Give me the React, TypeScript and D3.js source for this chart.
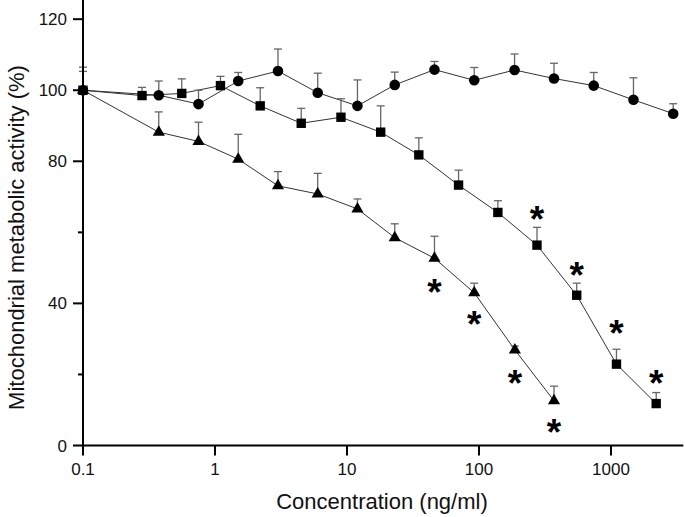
import React from "react";
import * as d3 from "d3";

// ---- data ----
const circleConc = [0.1, 0.375, 0.75, 1.5, 3, 6, 12, 23, 46, 92, 186, 370, 740, 1480, 2960];
const circleVal = [100, 98.6, 96.1, 102.6, 105.4, 99.3, 95.6, 101.5, 105.8, 102.8, 105.7, 103.3, 101.3, 97.3, 93.4];
const circleErr = [6.5, 4.0, 3.9, 2.4, 6.2, 5.5, 7.3, 3.6, 2.3, 3.6, 4.5, 4.3, 3.7, 6.2, 2.8];

const squareConc = [0.1, 0.28, 0.56, 1.1, 2.2, 4.5, 9, 18, 35, 70, 139, 275, 550, 1100, 2200];
const squareVal = [100, 98.5, 99.1, 101.3, 95.6, 90.7, 92.4, 88.2, 81.8, 73.3, 65.6, 56.4, 42.3, 22.9, 11.8];
const squareErr = [5.3, 2.3, 4.1, 2.6, 5.1, 4.2, 5.2, 7.4, 4.8, 4.2, 3.3, 5.0, 3.4, 4.2, 3.1];

const triConc = [0.1, 0.375, 0.75, 1.5, 3, 6, 12, 23, 46, 92, 187, 370];
const triVal = [100, 88.2, 85.6, 80.6, 73.1, 70.8, 66.6, 58.5, 52.7, 43.0, 26.9, 12.6];
const triErr = [0, 5.7, 5.4, 7.0, 4.0, 5.8, 2.8, 3.9, 6.2, 2.7, 1.1, 4.1];

const starConc = [46, 92, 187, 370, 275, 550, 1100, 2200];
const starVal = [45.2, 36.3, 19.6, 5.8, 65.7, 49.9, 33.6, 19.6];

const xTicks = [0.1, 1, 10, 100, 1000];
const xTickLabels = ["0.1", "1", "10", "100", "1000"];
const yTicks = [0, 20, 40, 60, 80, 100, 120];
const yTickLabels = ["0", "", "40", "", "80", "100", "120"];

const xLabel = "Concentration (ng/ml)";
const yLabel = "Mitochondrial metabolic activity (%)";

const FONT = "'Liberation Sans', Arial, Helvetica, sans-serif";

export default function App() {
  const W = 685, H = 517;
  const x = d3.scaleLog().domain([0.1, 3530]).range([83, 683.3]);
  const y = d3.scaleLinear().domain([0, 125.4]).range([445.5, 0]);

  const line = d3
    .line<[number, number]>()
    .x((d) => x(d[0]))
    .y((d) => y(d[1]));

  const series = [
    { conc: circleConc, val: circleVal, err: circleErr, sym: d3.symbolCircle, size: 88 },
    { conc: squareConc, val: squareVal, err: squareErr, sym: d3.symbolSquare, size: 88 },
    { conc: triConc, val: triVal, err: triErr, sym: d3.symbolTriangle, size: 64 },
  ];

  const capHalf = 4;

  return (
    <svg
      width={W}
      height={H}
      style={{ position: "absolute", left: 0, top: 0, background: "#fff" }}
      fontFamily={FONT}
    >
      <rect x={0} y={0} width={W} height={H} fill="#fff" />
      {/* lines */}
      {series.map((s, i) => (
        <path
          key={"l" + i}
          d={line(s.conc.map((c, j) => [c, s.val[j]] as [number, number])) || ""}
          fill="none"
          stroke="#333"
          strokeWidth={1}
        />
      ))}
      {/* error bars */}
      {series.map((s, i) =>
        s.conc.map((c, j) =>
          s.err[j] > 0 ? (
            <g key={"e" + i + "-" + j} stroke="#666" strokeWidth={1.3}>
              <line x1={x(c)} x2={x(c)} y1={y(s.val[j])} y2={y(s.val[j] + s.err[j])} />
              <line
                x1={x(c) - capHalf}
                x2={x(c) + capHalf}
                y1={y(s.val[j] + s.err[j])}
                y2={y(s.val[j] + s.err[j])}
              />
            </g>
          ) : null
        )
      )}
      {/* markers */}
      {series.map((s, i) =>
        s.conc.map((c, j) => (
          <path
            key={"m" + i + "-" + j}
            d={d3.symbol().type(s.sym).size(s.size)() || ""}
            transform={`translate(${x(c)},${y(s.val[j])})`}
            fill="#000"
          />
        ))
      )}
      {/* stars */}
      {starConc.map((c, i) => (
        <text
          key={"s" + i}
          x={x(c)}
          y={y(starVal[i]) + 20}
          textAnchor="middle"
          fontSize={37}
          fontWeight="bold"
          fill="#000"
        >
          *
        </text>
      ))}
      {/* axes */}
      <line x1={x(0.1)} x2={x(0.1)} y1={0} y2={y(0)} stroke="#000" strokeWidth={2} />
      <line x1={x(0.1)} x2={683.3} y1={y(0)} y2={y(0)} stroke="#000" strokeWidth={2} />
      {yTicks.map((t, i) => (
        <g key={"yt" + i}>
          <line
            x1={x(0.1) - (yTickLabels[i] ? 10 : 5)}
            x2={x(0.1)}
            y1={y(t)}
            y2={y(t)}
            stroke="#000"
            strokeWidth={2}
          />
          {yTickLabels[i] ? (
            <text x={x(0.1) - 16} y={y(t) + 6} textAnchor="end" fontSize={17} fill="#111">
              {yTickLabels[i]}
            </text>
          ) : null}
        </g>
      ))}
      {xTicks.map((t, i) => (
        <g key={"xt" + i}>
          <line x1={x(t)} x2={x(t)} y1={y(0)} y2={y(0) + 10} stroke="#000" strokeWidth={2} />
          <text x={x(t)} y={475} textAnchor="middle" fontSize={17} fill="#111">
            {xTickLabels[i]}
          </text>
        </g>
      ))}
      <text x={382} y={509} textAnchor="middle" fontSize={22} fill="#111">
        {xLabel}
      </text>
      <text
        transform="translate(24,237.5) rotate(-90)"
        textAnchor="middle"
        fontSize={22}
        fill="#111"
      >
        {yLabel}
      </text>
    </svg>
  );
}
